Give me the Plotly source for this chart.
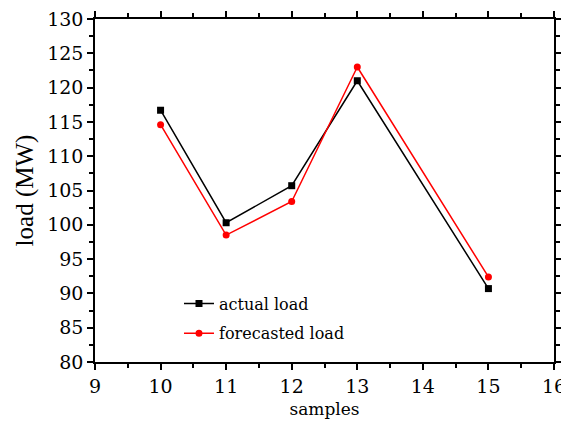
import plotly.graph_objects as go

samples = [10, 11, 12, 13, 15]
actual_load = [116.7, 100.3, 105.7, 121.0, 90.7]
forecasted_load = [114.6, 98.5, 103.4, 123.0, 92.4]

x_ticks = list(range(9, 17))
y_ticks = list(range(80, 131, 5))

FONT = "DejaVu Serif"

fig = go.Figure()
fig.add_trace(go.Scatter(
    x=samples, y=actual_load, mode="lines+markers", name="actual load",
    legendgroup="a",
    line=dict(color="#000000", width=1.5),
    marker=dict(symbol="square", size=7, color="#000000"),
))
fig.add_trace(go.Scatter(
    x=samples, y=forecasted_load, mode="lines+markers", name="forecasted load",
    legendgroup="b",
    line=dict(color="#ff0000", width=1.5),
    marker=dict(symbol="circle", size=7, color="#ff0000"),
))

axis_common = dict(
    showline=True, linecolor="#000000", linewidth=1.5, mirror="ticks",
    ticks="outside", ticklen=6, tickwidth=1.5, tickcolor="#000000",
    showgrid=False, zeroline=False, automargin=False,
    ticklabeloverflow="allow",
    tickfont=dict(family=FONT, size=19, color="#000000"),
)

fig.update_xaxes(
    range=[9, 16], tickvals=x_ticks, ticktext=[str(v) for v in x_ticks],
    minor=dict(dtick=0.5, tick0=9, ticks="outside", ticklen=4, tickwidth=1.5, tickcolor="#000000"),
    title=dict(text="samples", font=dict(family=FONT, size=17, color="#000000"), standoff=8),
    **axis_common,
)
fig.update_yaxes(
    range=[80, 130], tickvals=y_ticks, ticktext=[str(v) for v in y_ticks],
    minor=dict(dtick=2.5, tick0=80, ticks="outside", ticklen=4, tickwidth=1.5, tickcolor="#000000"),
    title=dict(text="load (MW)", font=dict(family="Liberation Serif", size=25, color="#000000"), standoff=6),
    **axis_common,
)

# page body adds an 8px margin, so the figure is sized to fit the 569x433 window
fig.update_layout(
    width=561, height=417,
    margin=dict(l=87, r=15, t=11, b=63),
    plot_bgcolor="#ffffff", paper_bgcolor="#ffffff",
    legend=dict(
        x=0.183, y=0.22, xanchor="left", yanchor="top",
        bgcolor="rgba(0,0,0,0)", borderwidth=0,
        font=dict(family=FONT, size=16, color="#000000"),
        traceorder="grouped", tracegroupgap=6,
    ),
)

fig.write_html("out.html")
